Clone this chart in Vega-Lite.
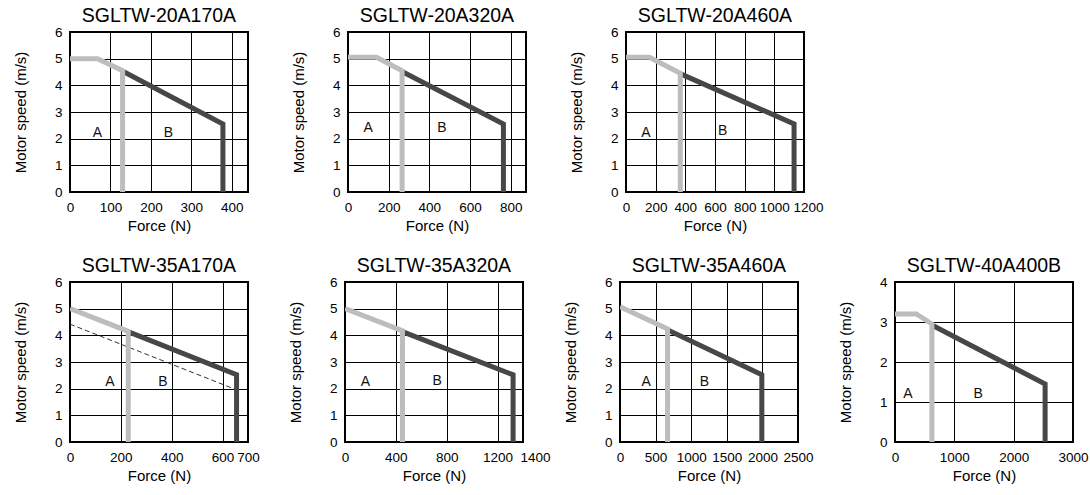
{
  "$schema": "https://vega.github.io/schema/vega-lite/v6.json",
  "padding": {"left": 12, "top": 4, "right": 5, "bottom": 5},
  "background": "white",
  "data": {"values": [
    {"p":1,"s":"A","i":0,"x":0,"y":5},
    {"p":1,"s":"A","i":1,"x":68,"y":5},
    {"p":1,"s":"A","i":2,"x":130,"y":4.55},
    {"p":1,"s":"A","i":3,"x":130,"y":0},
    {"p":1,"s":"B","i":0,"x":134,"y":4.5},
    {"p":1,"s":"B","i":1,"x":378,"y":2.55},
    {"p":1,"s":"B","i":2,"x":378,"y":0},
    {"p":1,"s":"T","i":0,"x":68,"y":2.2,"t":"A"},
    {"p":1,"s":"T","i":1,"x":243,"y":2.2,"t":"B"},

    {"p":2,"s":"A","i":0,"x":0,"y":5.05},
    {"p":2,"s":"A","i":1,"x":140,"y":5.05},
    {"p":2,"s":"A","i":2,"x":266,"y":4.55},
    {"p":2,"s":"A","i":3,"x":266,"y":0},
    {"p":2,"s":"B","i":0,"x":270,"y":4.5},
    {"p":2,"s":"B","i":1,"x":764,"y":2.55},
    {"p":2,"s":"B","i":2,"x":764,"y":0},
    {"p":2,"s":"T","i":0,"x":99,"y":2.4,"t":"A"},
    {"p":2,"s":"T","i":1,"x":462,"y":2.4,"t":"B"},

    {"p":3,"s":"A","i":0,"x":0,"y":5.05},
    {"p":3,"s":"A","i":1,"x":158,"y":5.05},
    {"p":3,"s":"A","i":2,"x":366,"y":4.45},
    {"p":3,"s":"A","i":3,"x":366,"y":0},
    {"p":3,"s":"B","i":0,"x":372,"y":4.42},
    {"p":3,"s":"B","i":1,"x":1133,"y":2.55},
    {"p":3,"s":"B","i":2,"x":1133,"y":0},
    {"p":3,"s":"T","i":0,"x":135,"y":2.2,"t":"A"},
    {"p":3,"s":"T","i":1,"x":652,"y":2.3,"t":"B"},

    {"p":4,"s":"A","i":0,"x":0,"y":5},
    {"p":4,"s":"A","i":1,"x":229,"y":4.15},
    {"p":4,"s":"A","i":2,"x":229,"y":0},
    {"p":4,"s":"B","i":0,"x":233,"y":4.12},
    {"p":4,"s":"B","i":1,"x":655,"y":2.52},
    {"p":4,"s":"B","i":2,"x":655,"y":0},
    {"p":4,"s":"D","i":0,"x":0,"y":4.42},
    {"p":4,"s":"D","i":1,"x":646,"y":1.99},
    {"p":4,"s":"T","i":0,"x":157,"y":2.24,"t":"A"},
    {"p":4,"s":"T","i":1,"x":365,"y":2.24,"t":"B"},

    {"p":5,"s":"A","i":0,"x":0,"y":5},
    {"p":5,"s":"A","i":1,"x":452,"y":4.17},
    {"p":5,"s":"A","i":2,"x":452,"y":0},
    {"p":5,"s":"B","i":0,"x":456,"y":4.13},
    {"p":5,"s":"B","i":1,"x":1322,"y":2.52},
    {"p":5,"s":"B","i":2,"x":1322,"y":0},
    {"p":5,"s":"T","i":0,"x":161,"y":2.24,"t":"A"},
    {"p":5,"s":"T","i":1,"x":725,"y":2.28,"t":"B"},

    {"p":6,"s":"A","i":0,"x":0,"y":5.07},
    {"p":6,"s":"A","i":1,"x":668,"y":4.24},
    {"p":6,"s":"A","i":2,"x":668,"y":0},
    {"p":6,"s":"B","i":0,"x":672,"y":4.2},
    {"p":6,"s":"B","i":1,"x":1992,"y":2.52},
    {"p":6,"s":"B","i":2,"x":1992,"y":0},
    {"p":6,"s":"T","i":0,"x":368,"y":2.24,"t":"A"},
    {"p":6,"s":"T","i":1,"x":1186,"y":2.24,"t":"B"},

    {"p":7,"s":"A","i":0,"x":0,"y":3.2},
    {"p":7,"s":"A","i":1,"x":360,"y":3.2},
    {"p":7,"s":"A","i":2,"x":622,"y":2.95},
    {"p":7,"s":"A","i":3,"x":622,"y":0},
    {"p":7,"s":"B","i":0,"x":628,"y":2.92},
    {"p":7,"s":"B","i":1,"x":2530,"y":1.45},
    {"p":7,"s":"B","i":2,"x":2530,"y":0},
    {"p":7,"s":"T","i":0,"x":217,"y":1.2,"t":"A"},
    {"p":7,"s":"T","i":1,"x":1400,"y":1.2,"t":"B"}
  ]},
  "spacing": 19,
  "vconcat": [
    {
      "hconcat": [
        {
          "width": 178, "height": 160, "title": "SGLTW-20A170A",
          "transform": [{"filter": "datum.p == 1"}],
          "encoding": {
            "x": {"field": "x", "type": "quantitative", "scale": {"domain": [0, 440], "nice": false}, "axis": {"values": [0,100,200,300,400], "title": "Force (N)"}},
            "y": {"field": "y", "type": "quantitative", "scale": {"domain": [0, 6], "nice": false}, "axis": {"values": [0,1,2,3,4,5,6], "title": "Motor speed (m/s)"}}
          },
          "layer": [
            {"transform": [{"filter": "datum.s == 'B'"}], "mark": {"type": "line", "color": "#474747", "strokeWidth": 5, "strokeJoin": "miter", "clip": true}, "encoding": {"order": {"field": "i"}}},
            {"transform": [{"filter": "datum.s == 'A'"}], "mark": {"type": "line", "color": "#bdbdbd", "strokeWidth": 5, "strokeJoin": "miter", "clip": true}, "encoding": {"order": {"field": "i"}}},
            {"transform": [{"filter": "datum.s == 'T'"}], "mark": {"type": "text", "fontSize": 14, "color": "#111"}, "encoding": {"text": {"field": "t"}}}
          ]
        },
        {
          "width": 178, "height": 160, "title": "SGLTW-20A320A",
          "transform": [{"filter": "datum.p == 2"}],
          "encoding": {
            "x": {"field": "x", "type": "quantitative", "scale": {"domain": [0, 875], "nice": false}, "axis": {"values": [0,200,400,600,800], "title": "Force (N)"}},
            "y": {"field": "y", "type": "quantitative", "scale": {"domain": [0, 6], "nice": false}, "axis": {"values": [0,1,2,3,4,5,6], "title": "Motor speed (m/s)"}}
          },
          "layer": [
            {"transform": [{"filter": "datum.s == 'B'"}], "mark": {"type": "line", "color": "#474747", "strokeWidth": 5, "strokeJoin": "miter", "clip": true}, "encoding": {"order": {"field": "i"}}},
            {"transform": [{"filter": "datum.s == 'A'"}], "mark": {"type": "line", "color": "#bdbdbd", "strokeWidth": 5, "strokeJoin": "miter", "clip": true}, "encoding": {"order": {"field": "i"}}},
            {"transform": [{"filter": "datum.s == 'T'"}], "mark": {"type": "text", "fontSize": 14, "color": "#111"}, "encoding": {"text": {"field": "t"}}}
          ]
        },
        {
          "width": 178, "height": 160, "title": "SGLTW-20A460A",
          "transform": [{"filter": "datum.p == 3"}],
          "encoding": {
            "x": {"field": "x", "type": "quantitative", "scale": {"domain": [0, 1200], "nice": false}, "axis": {"values": [0,200,400,600,800,1000,1200], "title": "Force (N)", "labelOffset": {"condition": {"test": "datum.value == 1200", "value": 4}, "value": 0}}},
            "y": {"field": "y", "type": "quantitative", "scale": {"domain": [0, 6], "nice": false}, "axis": {"values": [0,1,2,3,4,5,6], "title": "Motor speed (m/s)"}}
          },
          "layer": [
            {"transform": [{"filter": "datum.s == 'B'"}], "mark": {"type": "line", "color": "#474747", "strokeWidth": 5, "strokeJoin": "miter", "clip": true}, "encoding": {"order": {"field": "i"}}},
            {"transform": [{"filter": "datum.s == 'A'"}], "mark": {"type": "line", "color": "#bdbdbd", "strokeWidth": 5, "strokeJoin": "miter", "clip": true}, "encoding": {"order": {"field": "i"}}},
            {"transform": [{"filter": "datum.s == 'T'"}], "mark": {"type": "text", "fontSize": 14, "color": "#111"}, "encoding": {"text": {"field": "t"}}}
          ]
        }
      ],
      "spacing": 100,
      "bounds": "flush"
    },
    {
      "hconcat": [
        {
          "width": 178, "height": 160, "title": "SGLTW-35A170A",
          "transform": [{"filter": "datum.p == 4"}],
          "encoding": {
            "x": {"field": "x", "type": "quantitative", "scale": {"domain": [0, 700], "nice": false}, "axis": {"values": [0,200,400,600,700], "title": "Force (N)"}},
            "y": {"field": "y", "type": "quantitative", "scale": {"domain": [0, 6], "nice": false}, "axis": {"values": [0,1,2,3,4,5,6], "title": "Motor speed (m/s)"}}
          },
          "layer": [
            {"transform": [{"filter": "datum.s == 'D'"}], "mark": {"type": "line", "color": "#333", "strokeWidth": 1, "strokeDash": [5, 3], "clip": true}, "encoding": {"order": {"field": "i"}}},
            {"transform": [{"filter": "datum.s == 'B'"}], "mark": {"type": "line", "color": "#474747", "strokeWidth": 5, "strokeJoin": "miter", "clip": true}, "encoding": {"order": {"field": "i"}}},
            {"transform": [{"filter": "datum.s == 'A'"}], "mark": {"type": "line", "color": "#bdbdbd", "strokeWidth": 5, "strokeJoin": "miter", "clip": true}, "encoding": {"order": {"field": "i"}}},
            {"transform": [{"filter": "datum.s == 'T'"}], "mark": {"type": "text", "fontSize": 14, "color": "#111"}, "encoding": {"text": {"field": "t"}}}
          ]
        },
        {
          "width": 178, "height": 160, "title": "SGLTW-35A320A",
          "transform": [{"filter": "datum.p == 5"}],
          "encoding": {
            "x": {"field": "x", "type": "quantitative", "scale": {"domain": [0, 1400], "nice": false}, "axis": {"values": [0,400,800,1200,1400], "title": "Force (N)", "labelOffset": {"condition": {"test": "datum.value == 1400", "value": 12}, "value": 0}}},
            "y": {"field": "y", "type": "quantitative", "scale": {"domain": [0, 6], "nice": false}, "axis": {"values": [0,1,2,3,4,5,6], "title": "Motor speed (m/s)"}}
          },
          "layer": [
            {"transform": [{"filter": "datum.s == 'B'"}], "mark": {"type": "line", "color": "#474747", "strokeWidth": 5, "strokeJoin": "miter", "clip": true}, "encoding": {"order": {"field": "i"}}},
            {"transform": [{"filter": "datum.s == 'A'"}], "mark": {"type": "line", "color": "#bdbdbd", "strokeWidth": 5, "strokeJoin": "miter", "clip": true}, "encoding": {"order": {"field": "i"}}},
            {"transform": [{"filter": "datum.s == 'T'"}], "mark": {"type": "text", "fontSize": 14, "color": "#111"}, "encoding": {"text": {"field": "t"}}}
          ]
        },
        {
          "width": 178, "height": 160, "title": "SGLTW-35A460A",
          "transform": [{"filter": "datum.p == 6"}],
          "encoding": {
            "x": {"field": "x", "type": "quantitative", "scale": {"domain": [0, 2500], "nice": false}, "axis": {"values": [0,500,1000,1500,2000,2500], "title": "Force (N)"}},
            "y": {"field": "y", "type": "quantitative", "scale": {"domain": [0, 6], "nice": false}, "axis": {"values": [0,1,2,3,4,5,6], "title": "Motor speed (m/s)"}}
          },
          "layer": [
            {"transform": [{"filter": "datum.s == 'B'"}], "mark": {"type": "line", "color": "#474747", "strokeWidth": 5, "strokeJoin": "miter", "clip": true}, "encoding": {"order": {"field": "i"}}},
            {"transform": [{"filter": "datum.s == 'A'"}], "mark": {"type": "line", "color": "#bdbdbd", "strokeWidth": 5, "strokeJoin": "miter", "clip": true}, "encoding": {"order": {"field": "i"}}},
            {"transform": [{"filter": "datum.s == 'T'"}], "mark": {"type": "text", "fontSize": 14, "color": "#111"}, "encoding": {"text": {"field": "t"}}}
          ]
        },
        {
          "width": 178, "height": 160, "title": "SGLTW-40A400B",
          "transform": [{"filter": "datum.p == 7"}],
          "encoding": {
            "x": {"field": "x", "type": "quantitative", "scale": {"domain": [0, 3000], "nice": false}, "axis": {"values": [0,1000,2000,3000], "title": "Force (N)"}},
            "y": {"field": "y", "type": "quantitative", "scale": {"domain": [0, 4], "nice": false}, "axis": {"values": [0,1,2,3,4], "title": "Motor speed (m/s)"}}
          },
          "layer": [
            {"transform": [{"filter": "datum.s == 'B'"}], "mark": {"type": "line", "color": "#474747", "strokeWidth": 5, "strokeJoin": "miter", "clip": true}, "encoding": {"order": {"field": "i"}}},
            {"transform": [{"filter": "datum.s == 'A'"}], "mark": {"type": "line", "color": "#bdbdbd", "strokeWidth": 5, "strokeJoin": "miter", "clip": true}, "encoding": {"order": {"field": "i"}}},
            {"transform": [{"filter": "datum.s == 'T'"}], "mark": {"type": "text", "fontSize": 14, "color": "#111"}, "encoding": {"text": {"field": "t"}}}
          ]
        }
      ],
      "spacing": 97,
      "bounds": "flush"
    }
  ],
  "config": {
    "font": "Liberation Sans",
    "view": {"stroke": "#000", "strokeWidth": 2},
    "axis": {
      "grid": true, "gridColor": "#000", "gridOpacity": 1, "gridWidth": 1,
      "domain": false, "ticks": false, "format": "d",
      "labelFont": "Liberation Sans", "labelFontSize": 13.5, "labelColor": "#000",
      "labelOverlap": false, "labelFlush": false, "labelPadding": 8,
      "titleFont": "Liberation Sans", "titleFontSize": 15, "titleFontWeight": "normal", "titleColor": "#000"
    },
    "axisX": {"titlePadding": 5},
    "axisY": {"titlePadding": 26},
    "title": {"font": "Liberation Sans", "fontSize": 19.5, "fontWeight": "normal", "color": "#000", "offset": -1, "anchor": "middle"}
  }
}
